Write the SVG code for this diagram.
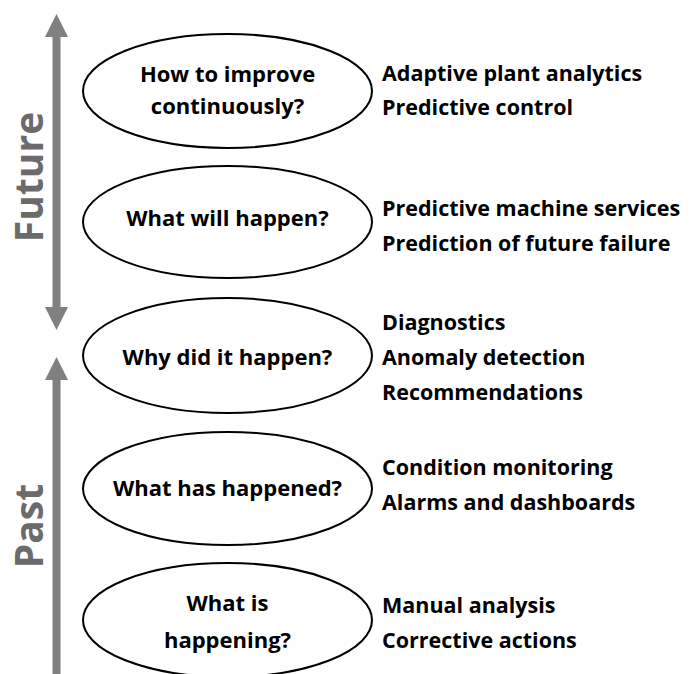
<svg xmlns="http://www.w3.org/2000/svg" width="691" height="674" viewBox="0 0 691 674">
<style>
.ell{fill:#fff;stroke:#000;stroke-width:2}
.q{font-family:"Open Sans","Liberation Sans",sans-serif;font-weight:bold;font-size:22px;fill:#000;text-anchor:middle}
.a{font-family:"Open Sans","Liberation Sans",sans-serif;font-weight:bold;font-size:21.5px;fill:#000}
.side{font-family:"Open Sans","Liberation Sans",sans-serif;font-weight:bold;font-size:39px;fill:#6b6b6b;text-anchor:middle}
.arr{fill:#808080}
</style>
<rect width="691" height="674" fill="#fff"/>
<g id="connectors">
  <path class="arr" d="M56.5,14 L68,37 L60.5,37 L60.5,307 L68,307 L56.5,330 L45,307 L52.5,307 L52.5,37 L45,37 Z"/>
  <path class="arr" d="M56.5,357 L68,380 L60.5,380 L60.5,674 L52.5,674 L52.5,380 L45,380 Z"/>
</g>
<g id="label-future"><text class="side" transform="translate(43,177) rotate(-90)">Future</text></g>
<g id="label-past"><text class="side" transform="translate(43,526) rotate(-90)">Past</text></g>
<g id="node1">
  <ellipse class="ell" cx="227.5" cy="91" rx="144.5" ry="57"/>
  <text class="q" x="227.5" y="82">How to improve</text>
  <text class="q" x="227.5" y="114">continuously?</text>
  <text class="a" x="382" y="81">Adaptive plant analytics</text>
  <text class="a" x="382" y="115">Predictive control</text>
</g>
<g id="node2">
  <ellipse class="ell" cx="227.5" cy="222" rx="144.5" ry="56"/>
  <text class="q" x="227.5" y="226">What will happen?</text>
  <text class="a" x="382" y="216">Predictive machine services</text>
  <text class="a" x="382" y="251">Prediction of future failure</text>
</g>
<g id="node3">
  <ellipse class="ell" cx="227.5" cy="355.5" rx="144.5" ry="57.5"/>
  <text class="q" x="227.5" y="365">Why did it happen?</text>
  <text class="a" x="382" y="330">Diagnostics</text>
  <text class="a" x="382" y="365">Anomaly detection</text>
  <text class="a" x="382" y="400">Recommendations</text>
</g>
<g id="node4">
  <ellipse class="ell" cx="227.5" cy="488.5" rx="144.5" ry="56.5"/>
  <text class="q" x="227.5" y="496">What has happened?</text>
  <text class="a" x="382" y="475">Condition monitoring</text>
  <text class="a" x="382" y="510">Alarms and dashboards</text>
</g>
<g id="node5">
  <ellipse class="ell" cx="227.5" cy="620" rx="144.5" ry="57"/>
  <text class="q" x="227.5" y="611">What is</text>
  <text class="q" x="227.5" y="648">happening?</text>
  <text class="a" x="382" y="613">Manual analysis</text>
  <text class="a" x="382" y="648">Corrective actions</text>
</g>
</svg>
